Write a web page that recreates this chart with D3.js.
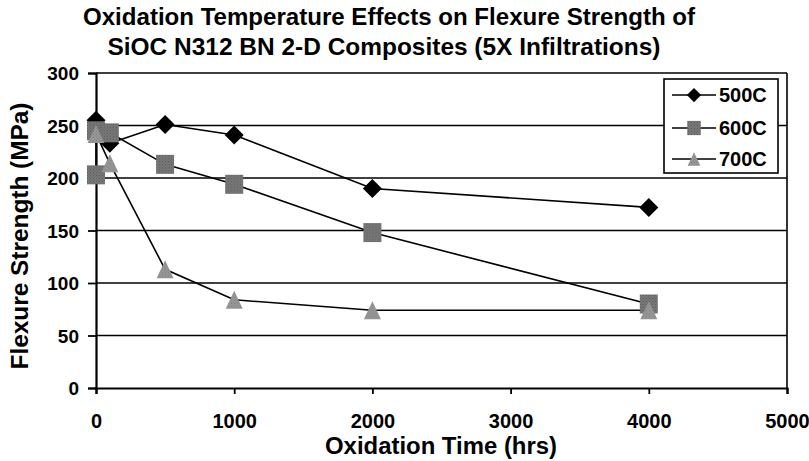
<!DOCTYPE html>
<html><head><meta charset="utf-8">
<script src="https://cdn.jsdelivr.net/npm/d3@7"></script>
<style>body{margin:0;background:#fff}svg{display:block;font-family:"Liberation Sans",Arial,sans-serif;font-weight:bold}</style>
</head><body>
<svg id="c" width="809" height="461"></svg>
<script>
const titleLines = ["Oxidation Temperature Effects on Flexure Strength of", "SiOC N312 BN 2-D Composites (5X Infiltrations)"];
const seriesNames = ["500C", "600C", "700C"];
const x500 = [0, 100, 500, 1000, 2000, 4000];
const y500 = [255, 233, 251, 241, 190, 172];
const x600 = [0, 0, 100, 500, 1000, 2000, 4000];
const y600 = [203, 245, 243, 213, 194, 148, 80];
const x700 = [0, 100, 500, 1000, 2000, 4000];
const y700 = [242, 214, 113, 84, 74, 74];
const xTicks = [0, 1000, 2000, 3000, 4000, 5000];
const yTicks = [0, 50, 100, 150, 200, 250, 300];
const xTitle = "Oxidation Time (hrs)";
const yTitle = "Flexure Strength (MPa)";

const svg = d3.select("#c");
const L = 96, R = 787, T = 73, B = 388;
const x = d3.scaleLinear().domain([0, 5000]).range([L, R]);
const y = d3.scaleLinear().domain([0, 300]).range([B, T]);

// title
svg.append("g").selectAll("text").data(titleLines).join("text")
  .attr("x", (d, i) => i === 0 ? 389 : 384).attr("y", (d, i) => 25 + i * 30)
  .attr("text-anchor", "middle").attr("font-size", 24).attr("textLength", (d,i)=> i===0?612:553)
  .attr("lengthAdjust","spacingAndGlyphs").text(d => d);

// gridlines
svg.append("g").selectAll("line").data(yTicks.filter(v => v > 0)).join("line")
  .attr("x1", L).attr("x2", R).attr("y1", d => y(d)).attr("y2", d => y(d))
  .attr("stroke", "#000").attr("stroke-width", 1.6);
svg.append("line").attr("x1", R).attr("x2", R).attr("y1", T).attr("y2", B).attr("stroke", "#000").attr("stroke-width", 1.6);

// axes
const yAxis = svg.append("g").attr("transform", `translate(${L},0)`)
  .call(d3.axisLeft(y).tickValues(yTicks).tickSize(8).tickPadding(9));
const xAxis = svg.append("g").attr("transform", `translate(0,${B})`)
  .call(d3.axisBottom(x).tickValues(xTicks).tickSize(6).tickPadding(0).tickFormat(d3.format("d")));
[yAxis, xAxis].forEach(a => {
  a.select(".domain").attr("stroke", "#000").attr("stroke-width", 2.2);
  a.selectAll(".tick line").attr("stroke", "#000").attr("stroke-width", 1.8);
  a.selectAll("text").attr("font-family", "Liberation Sans, Arial, sans-serif").attr("font-weight", "bold").attr("fill", "#000");
});
yAxis.selectAll(".tick text").attr("font-size", 19).attr("dy", "0.36em");
xAxis.selectAll(".tick text").attr("font-size", 20).attr("y", 40).attr("dy", 0);

svg.append("text").attr("x", 441).attr("y", 454).attr("text-anchor", "middle").attr("font-size", 23)
  .attr("textLength", 232).attr("lengthAdjust", "spacingAndGlyphs").text(xTitle);
svg.append("text").attr("transform", "translate(28,236) rotate(-90)").attr("text-anchor", "middle").attr("font-size", 24)
  .attr("textLength", 267).attr("lengthAdjust", "spacingAndGlyphs").text(yTitle);

// pattern fills
const defs = svg.append("defs");
function pat(id, base, dot) {
  const p = defs.append("pattern").attr("id", id).attr("width", 3).attr("height", 3).attr("patternUnits", "userSpaceOnUse");
  p.append("rect").attr("width", 3).attr("height", 3).attr("fill", base);
  p.append("rect").attr("width", 1).attr("height", 1).attr("fill", dot);
  p.append("rect").attr("x", 1.5).attr("y", 1.5).attr("width", 1).attr("height", 1).attr("fill", dot);
}
pat("sq", "#7a7a7a", "#555");
pat("tr", "#9a9a9a", "#777");

// marker shapes (w = half-width, h = half-height)
const diamond = (w, h) => `M0,${-h}L${w},0L0,${h}L${-w},0Z`;
const square = (w, h) => `M${-w},${-h}H${w}V${h}H${-w}Z`;
const triangle = (w, h) => `M0,${-h}L${w},${h}H${-w}Z`;

const series = [
  {name: seriesNames[0], xs: x500, ys: y500, shape: diamond, w: 9.5, h: 9.5, fill: "#000"},
  {name: seriesNames[1], xs: x600, ys: y600, shape: square, w: 9, h: 9.5, fill: "url(#sq)"},
  {name: seriesNames[2], xs: x700, ys: y700, shape: triangle, w: 8.5, h: 9, fill: "url(#tr)"}
];
const line = d3.line().x(d => x(d[0])).y(d => y(d[1]));
series.forEach(s => {
  const pts = s.xs.map((v, i) => [v, s.ys[i]]);
  svg.append("path").datum(pts).attr("d", line).attr("fill", "none").attr("stroke", "#000").attr("stroke-width", 1.6);
});
series.forEach(s => {
  const pts = s.xs.map((v, i) => [v, s.ys[i]]);
  svg.append("g").selectAll("path").data(pts).join("path")
    .attr("transform", d => `translate(${x(d[0])},${y(d[1])})`)
    .attr("d", s.shape(s.w, s.h)).attr("fill", s.fill);
});

// legend
const lg = svg.append("g");
lg.append("rect").attr("x", 664).attr("y", 79).attr("width", 114).attr("height", 94)
  .attr("fill", "#fff").attr("stroke", "#000").attr("stroke-width", 1.6);
const ly = [95, 128, 159];
series.forEach((s, i) => {
  lg.append("line").attr("x1", 672).attr("x2", 716).attr("y1", ly[i]).attr("y2", ly[i]).attr("stroke", "#000").attr("stroke-width", 1.6);
  lg.append("path").attr("transform", `translate(694,${ly[i]})`)
    .attr("d", s.shape(s.w * 0.75, s.h * 0.75)).attr("fill", s.fill);
  lg.append("text").attr("x", 719).attr("y", ly[i] + 7).attr("font-size", 20).text(s.name);
});
</script>
</body></html>
